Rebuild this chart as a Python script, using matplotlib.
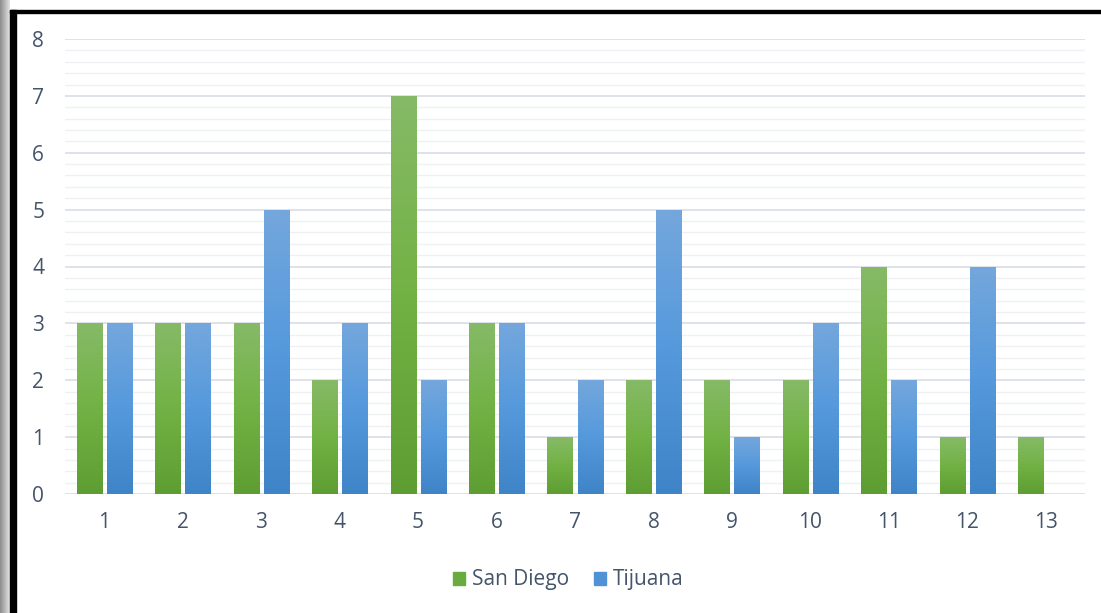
import matplotlib.pyplot as plt
import numpy as np
from matplotlib.colors import LinearSegmentedColormap
from matplotlib.patches import Rectangle

plt.rcParams['font.family'] = ['Open Sans', 'DejaVu Sans']

categories = [str(i) for i in range(1, 14)]
san_diego = [3, 3, 3, 2, 7, 3, 1, 2, 2, 2, 4, 1, 1]
tijuana = [3, 3, 5, 3, 2, 3, 2, 5, 1, 3, 2, 4, 0]

green_cmap = LinearSegmentedColormap.from_list("g", ["#5d9d32", "#72b244", "#86ba67"])
blue_cmap = LinearSegmentedColormap.from_list("b", ["#3f84c6", "#5599dc", "#74a7dc"])
text_color = "#44546a"

fig = plt.figure(figsize=(11.01, 6.13), dpi=100)
ax = fig.add_axes([65 / 1101, 1 - 494 / 613, 1020 / 1101, 455 / 613])

x = np.arange(len(categories))
width = 0.319
offset = 0.1915

grad = np.linspace(0, 1, 256).reshape(-1, 1)


def gradient_bars(xs, vals, cmap, label):
    bars = ax.bar(xs, vals, width, color=cmap(0.6), label=label, zorder=2)
    for b in bars:
        h = b.get_height()
        if h <= 0:
            continue
        bx = b.get_x()
        im = ax.imshow(grad, cmap=cmap, origin="lower", aspect="auto",
                       extent=(bx, bx + b.get_width(), 0, h), zorder=3)
        im.set_clip_path(b)
    return bars


gradient_bars(x - offset, san_diego, green_cmap, "San Diego")
gradient_bars(x + offset, tijuana, blue_cmap, "Tijuana")

ax.set_xlim(-0.5, len(categories) - 0.5)
ax.set_ylim(0, 8)
ax.set_xticks(x)
ax.set_xticklabels(categories)
ax.set_yticks(range(0, 9))
ax.set_yticks(np.arange(0, 8.01, 0.2), minor=True)
ax.grid(axis="y", which="major", color="#d9dde5", linewidth=1.2, zorder=0)
ax.grid(axis="y", which="minor", color="#eef0f3", linewidth=1.0, zorder=0)
ax.set_axisbelow(True)
ax.tick_params(axis="both", which="both", length=0, labelsize=15, colors=text_color)
ax.tick_params(axis="y", pad=15)
ax.tick_params(axis="x", pad=13)
for s in ax.spines.values():
    s.set_visible(False)

handles = [Rectangle((0, 0), 1, 1, color="#6aab3f"), Rectangle((0, 0), 1, 1, color="#4f93d6")]
fig.legend(handles, ["San Diego", "Tijuana"], loc="center", bbox_to_anchor=(568 / 1101, 1 - 580 / 613),
           ncol=2, frameon=False, fontsize=15, handlelength=0.6, handleheight=0.6,
           handletextpad=0.3, columnspacing=1.2, labelcolor=text_color)

# frame: gray shadow on the left, black border on left and top
shade = np.linspace(0.55, 0.9, 64).reshape(1, -1)
sax = fig.add_axes([0, 0, 10 / 1101, 1])
sax.imshow(shade, cmap="gray", vmin=0, vmax=1, aspect="auto")
sax.axis("off")
fig.add_artist(Rectangle((10 / 1101, 0), 6 / 1101, 1 - 10 / 613, transform=fig.transFigure,
                         color="black", zorder=10))
fig.add_artist(Rectangle((10 / 1101, 1 - 13 / 613), 1 - 10 / 1101, 3 / 613, transform=fig.transFigure,
                         color="black", zorder=10))

fig.savefig("out.png", dpi=100)
